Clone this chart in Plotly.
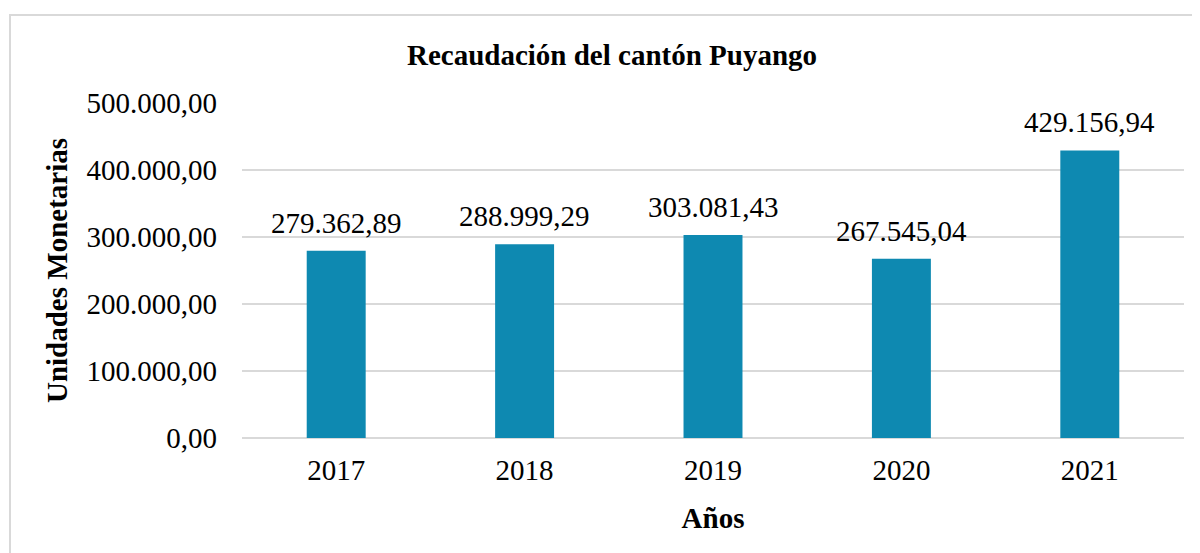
import plotly.graph_objects as go

years = ["2017", "2018", "2019", "2020", "2021"]
recaudacion = [279362.89, 288999.29, 303081.43, 267545.04, 429156.94]
y_ticks = [0, 100000, 200000, 300000, 400000, 500000]

# page renders with an 8px body offset
OFF = 8
W, H = 1200, 553
L, R, T = 242 - OFF, 16 + OFF, 103 - OFF
B = H - (438 - OFF)
pw, ph = W - L - R, H - T - B

def px_x(x):
    return (x - OFF - L) / pw

def px_y(y):
    return (H - B - (y - OFF)) / ph

font = "Liberation Serif, Times New Roman, serif"
FS = 29

fig = go.Figure(go.Bar(
    x=years, y=recaudacion,
    marker=dict(color="#0E89B1", line=dict(width=0)),
    hovertemplate="%{x}: %{y:,.2f}<extra></extra>",
))

def es_fmt(v):
    return f"{v:,.2f}".replace(",", "X").replace(".", ",").replace("X", ".")

# category axis: annotations positioned by category index
annotations = [
    dict(x=i, y=v, xref="x", yref="y", text=es_fmt(v),
         showarrow=False, yanchor="bottom", xanchor="center", yshift=10,
         font=dict(family=font, size=FS, color="#000000"))
    for i, v in enumerate(recaudacion)
]

fig.update_layout(
    width=W, height=H,
    margin=dict(l=L, r=R, t=T, b=B),
    paper_bgcolor="white", plot_bgcolor="white",
    separators=",.",
    bargap=0.687,
    showlegend=False,
    annotations=annotations,
    title=dict(text="<b>Recaudación del cantón Puyango</b>", x=(612 - OFF) / W, xref="container",
               y=1 - (55 - OFF) / H, yref="container", xanchor="center", yanchor="middle",
               font=dict(family=font, size=FS, color="#000000")),
    font=dict(family=font, color="#000000"),
    xaxis=dict(
        type="category", categoryorder="array", categoryarray=years,
        range=[-0.5, len(years) - 0.5],
        title=dict(text="<b>Años</b>", font=dict(family=font, size=FS, color="#000000"), standoff=22),
        tickfont=dict(family=font, size=FS, color="#000000"),
        showgrid=False, showline=False, ticks="", ticklabelstandoff=12,
    ),
    yaxis=dict(
        title=dict(text="<b>Unidades Monetarias</b>", font=dict(family=font, size=FS, color="#000000"), standoff=10),
        range=[0, 500000], tickvals=y_ticks, tickformat=",.2f",
        tickfont=dict(family=font, size=FS, color="#000000"),
        showgrid=True, gridcolor="#d9d9d9", gridwidth=1.5,
        zeroline=True, zerolinecolor="#d9d9d9", zerolinewidth=2,
        showline=False, ticks="", ticklabelstandoff=24,
    ),
    shapes=[dict(type="rect", xref="paper", yref="paper",
                 x0=px_x(10), x1=px_x(1215), y0=px_y(600), y1=px_y(15),
                 line=dict(color="#d9d9d9", width=2), fillcolor="rgba(0,0,0,0)", layer="below")],
)

fig.write_html("out.html")
